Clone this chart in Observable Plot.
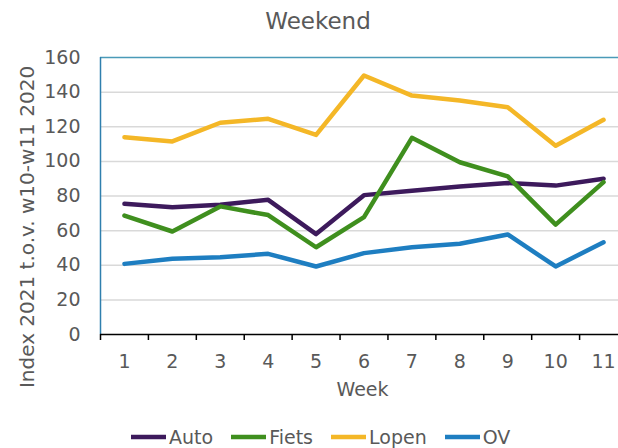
<!DOCTYPE html>
<html><head><meta charset="utf-8">
<script src="https://cdn.jsdelivr.net/npm/d3@7"></script>
<script src="https://cdn.jsdelivr.net/npm/@observablehq/plot@0.6"></script>
<style>
body{margin:0;background:#fff;font-family:"DejaVu Sans",Verdana,sans-serif;color:#595959;width:618px;height:448px;overflow:hidden;}
#title{height:40px;line-height:42px;font-size:23px;width:618px;padding-left:18px;box-sizing:border-box;text-align:center;}
#chart svg{display:block;}
#legend{display:flex;align-items:center;height:54px;padding-left:131px;font-size:19px;line-height:22px;color:#595959;}
#legend .item{display:flex;align-items:center;margin-right:18px;}
#legend svg{display:block;margin-right:3px;}
</style></head><body>
<div id="title">Weekend</div>
<div id="chart"></div>
<div id="legend"></div>
<script>
const weeks = [1, 2, 3, 4, 5, 6, 7, 8, 9, 10, 11];
const series = ["Auto", "Fiets", "Lopen", "OV"];
const colors = ["#3d1a5c", "#3f8f1e", "#f4b727", "#1e7ec1"];
const auto  = [75.5, 73.5, 75, 77.8, 58, 80.5, 83, 85.5, 87.5, 86, 90];
const fiets = [68.7, 59.5, 74, 69, 50.4, 67.8, 113.6, 99.5, 91.3, 63.5, 88];
const lopen = [114, 111.5, 122.3, 124.6, 115.3, 149.6, 138, 135.2, 131.3, 109, 124];
const ov    = [40.8, 43.7, 44.6, 46.6, 39.3, 47, 50.4, 52.4, 57.8, 39.3, 53.3];
const yTicks = [0, 20, 40, 60, 80, 100, 120, 140, 160];
const yLabel = "Index 2021 t.o.v. w10-w11 2020";
const xLabel = "Week";

const values = [auto, fiets, lopen, ov];
const data = series.flatMap((s, j) => weeks.map((w, i) => ({week: w, serie: s, value: values[j][i]})));
const boundaries = [...weeks.map(w => w - 0.5), weeks[weeks.length - 1] + 0.5];

const chart = Plot.plot({
  width: 618, height: 370,
  marginLeft: 100, marginRight: 0, marginTop: 17, marginBottom: 76,
  style: {fontFamily: "'DejaVu Sans', Verdana, sans-serif", fontSize: "19px", color: "#595959", background: "white", overflow: "hidden"},
  x: {domain: [boundaries[0], boundaries[boundaries.length - 1]], range: [100, 627]},
  y: {domain: [0, 160], range: [294, 17]},
  color: {domain: series, range: colors},
  marks: [
    Plot.gridY(yTicks.filter(t => t > 0 && t < 160), {stroke: "#d9d9d9", strokeOpacity: 1, strokeWidth: 1.5}),
    Plot.ruleY([160], {stroke: "#4a9ab8", strokeWidth: 1.5}),
    Plot.ruleX([boundaries[0]], {y1: 0, y2: 160, stroke: "#2f7fae", strokeWidth: 1.5}),
    Plot.axisY(yTicks, {tickSize: 0, tickPadding: 20, label: null, fill: "#595959"}),
    Plot.axisX(boundaries, {tickSize: 6, tickFormat: () => "", label: null, stroke: "#000", strokeWidth: 1.5}),
    Plot.axisX(weeks, {tickSize: 0, tickPadding: 20, label: null, fill: "#595959"}),
    Plot.ruleY([0], {stroke: "#000", strokeWidth: 1.5}),
    Plot.line(data, {x: "week", y: "value", z: "serie", stroke: "serie", strokeWidth: 4.5}),
    Plot.text([yLabel], {frameAnchor: "left", textAnchor: "middle", lineAnchor: "middle", dx: -73, dy: 31, rotate: -90, fontSize: 20, fill: "#595959"}),
    Plot.text([xLabel], {frameAnchor: "bottom", lineAnchor: "middle", dx: 3, dy: 55, fill: "#595959"})
  ]
});
document.getElementById("chart").appendChild(chart);

const legend = document.getElementById("legend");
series.forEach((s, j) => {
  const item = document.createElement("div");
  item.className = "item";
  item.innerHTML = `<svg width="35" height="6"><line x1="0" y1="3" x2="35" y2="3" stroke="${colors[j]}" stroke-width="4.5" stroke-linecap="round"/></svg><span>${s}</span>`;
  legend.appendChild(item);
});
</script>
</body></html>
